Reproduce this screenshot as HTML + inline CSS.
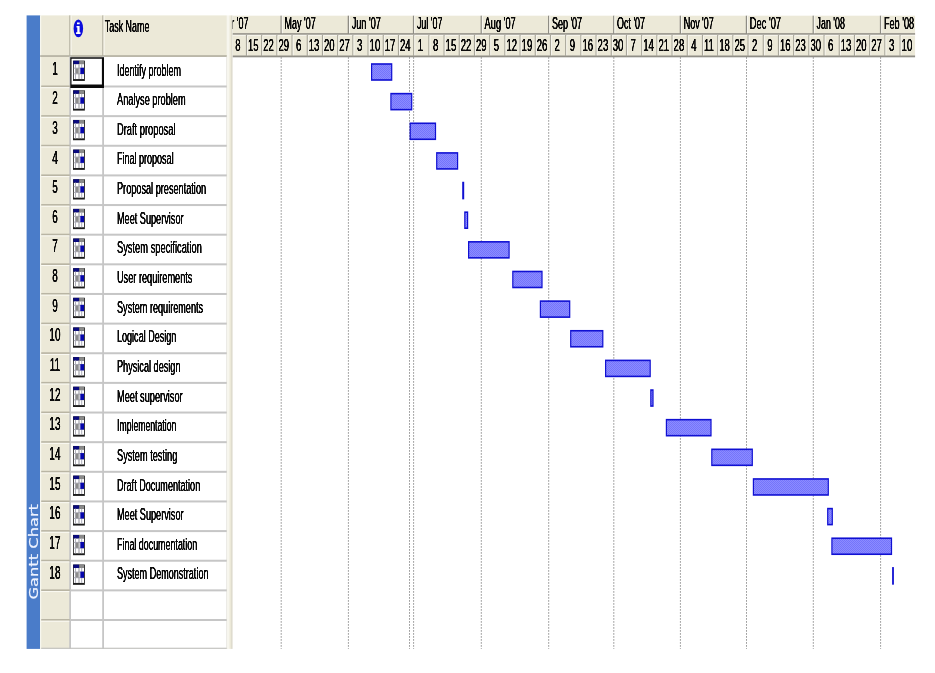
<!DOCTYPE html>
<html lang="en"><head><meta charset="utf-8"><title>Gantt Chart</title>
<style>html,body{margin:0;padding:0;background:#fff;}body{width:935px;height:673px;overflow:hidden;}svg{display:block;filter:blur(0.3px)}text{font-family:"Liberation Sans",Arial,sans-serif;fill:#0c0c0c}.v{font-family:"DejaVu Sans","Liberation Sans",sans-serif;fill:#eef3ff}</style></head><body>
<svg width="935" height="673" viewBox="0 0 935 673">
<defs><pattern id="h" width="2" height="2" patternUnits="userSpaceOnUse"><rect width="2" height="2" fill="#8c8cff"/><rect width="1" height="1" fill="#7474fb"/><rect x="1" y="1" width="1" height="1" fill="#7474fb"/></pattern>
<clipPath id="cc2"><rect x="0" y="0" width="915.3" height="673"/></clipPath>
<clipPath id="cc3"><rect x="232.7" y="0" width="100" height="673"/></clipPath>
<clipPath id="cc"><rect x="232.5" y="15.4" width="682.8" height="633.5"/></clipPath>
<g id="ic"><rect x="0" y="0.1" width="11.85" height="20.3" fill="#1c1c1c"/><rect x="0.8" y="3.5" width="10.2" height="15.0" fill="#fff"/><rect x="0.4" y="0.2" width="5.8" height="3.4" fill="#0a0a80"/><rect x="6.2" y="0.2" width="4.8" height="3.4" fill="#8a8a8a"/><path d="M0.8 7.6H11M0.8 13.3H11M2.5 3.6V18.5M8.7 3.6V18.5" stroke="#aeaeba" stroke-width="1.0" fill="none"/><path d="M6.0 3.6V18.5" stroke="#9c9ca4" stroke-width="1.1" fill="none"/><rect x="2.7" y="7.8" width="2.8" height="5.3" fill="#8c8c8c"/><rect x="7.3" y="7.2" width="3.7" height="6.2" fill="#0606ac"/></g>
<filter id="fat" x="0" y="0" width="935" height="673" filterUnits="userSpaceOnUse" color-interpolation-filters="sRGB"><feGaussianBlur stdDeviation="0.55 0.3"/><feComponentTransfer><feFuncA type="linear" slope="2.0"/></feComponentTransfer></filter>
</defs>
<rect x="26.6" y="15.4" width="13.600000000000001" height="633.5" fill="#4a7cc9"/>
<rect x="40.2" y="15.4" width="186.60000000000002" height="40.800000000000004" fill="#ece9d8"/>
<rect x="40.2" y="56.2" width="29.700000000000003" height="592.6999999999999" fill="#ece9d8"/>
<rect x="40.2" y="15.4" width="1" height="633.5" fill="#fbfaf4"/>
<rect x="69.0" y="15.4" width="1.6" height="40.800000000000004" fill="#c2bfaf"/><rect x="70.60000000000001" y="15.4" width="1" height="40.800000000000004" fill="#f9f8f1"/>
<rect x="102.0" y="15.4" width="1.6" height="40.800000000000004" fill="#c2bfaf"/><rect x="103.60000000000001" y="15.4" width="1" height="40.800000000000004" fill="#f9f8f1"/>
<rect x="40.2" y="55.2" width="186.60000000000002" height="1.7" fill="#b4b1a1"/>
<rect x="69.2" y="56.2" width="1.8" height="592.6999999999999" fill="#c6c6c6"/>
<rect x="102.2" y="56.2" width="1.8" height="592.6999999999999" fill="#c6c6c6"/>
<rect x="41.2" y="85.49" width="28.700000000000003" height="1.7" fill="#b9b5a4"/>
<rect x="41.2" y="87.19" width="28.1" height="1" fill="#fbfaf4"/>
<rect x="69.9" y="85.49" width="156.9" height="2.0" fill="#c6c6c6"/>
<rect x="41.2" y="115.13" width="28.700000000000003" height="1.7" fill="#b9b5a4"/>
<rect x="41.2" y="116.83" width="28.1" height="1" fill="#fbfaf4"/>
<rect x="69.9" y="115.13" width="156.9" height="2.0" fill="#c6c6c6"/>
<rect x="41.2" y="144.77" width="28.700000000000003" height="1.7" fill="#b9b5a4"/>
<rect x="41.2" y="146.47" width="28.1" height="1" fill="#fbfaf4"/>
<rect x="69.9" y="144.77" width="156.9" height="2.0" fill="#c6c6c6"/>
<rect x="41.2" y="174.41000000000003" width="28.700000000000003" height="1.7" fill="#b9b5a4"/>
<rect x="41.2" y="176.11" width="28.1" height="1" fill="#fbfaf4"/>
<rect x="69.9" y="174.41000000000003" width="156.9" height="2.0" fill="#c6c6c6"/>
<rect x="41.2" y="204.05" width="28.700000000000003" height="1.7" fill="#b9b5a4"/>
<rect x="41.2" y="205.75" width="28.1" height="1" fill="#fbfaf4"/>
<rect x="69.9" y="204.05" width="156.9" height="2.0" fill="#c6c6c6"/>
<rect x="41.2" y="233.69" width="28.700000000000003" height="1.7" fill="#b9b5a4"/>
<rect x="41.2" y="235.39" width="28.1" height="1" fill="#fbfaf4"/>
<rect x="69.9" y="233.69" width="156.9" height="2.0" fill="#c6c6c6"/>
<rect x="41.2" y="263.33000000000004" width="28.700000000000003" height="1.7" fill="#b9b5a4"/>
<rect x="41.2" y="265.03000000000003" width="28.1" height="1" fill="#fbfaf4"/>
<rect x="69.9" y="263.33000000000004" width="156.9" height="2.0" fill="#c6c6c6"/>
<rect x="41.2" y="292.97" width="28.700000000000003" height="1.7" fill="#b9b5a4"/>
<rect x="41.2" y="294.67" width="28.1" height="1" fill="#fbfaf4"/>
<rect x="69.9" y="292.97" width="156.9" height="2.0" fill="#c6c6c6"/>
<rect x="41.2" y="322.61" width="28.700000000000003" height="1.7" fill="#b9b5a4"/>
<rect x="41.2" y="324.31" width="28.1" height="1" fill="#fbfaf4"/>
<rect x="69.9" y="322.61" width="156.9" height="2.0" fill="#c6c6c6"/>
<rect x="41.2" y="352.25" width="28.700000000000003" height="1.7" fill="#b9b5a4"/>
<rect x="41.2" y="353.95" width="28.1" height="1" fill="#fbfaf4"/>
<rect x="69.9" y="352.25" width="156.9" height="2.0" fill="#c6c6c6"/>
<rect x="41.2" y="381.89000000000004" width="28.700000000000003" height="1.7" fill="#b9b5a4"/>
<rect x="41.2" y="383.59000000000003" width="28.1" height="1" fill="#fbfaf4"/>
<rect x="69.9" y="381.89000000000004" width="156.9" height="2.0" fill="#c6c6c6"/>
<rect x="41.2" y="411.53000000000003" width="28.700000000000003" height="1.7" fill="#b9b5a4"/>
<rect x="41.2" y="413.23" width="28.1" height="1" fill="#fbfaf4"/>
<rect x="69.9" y="411.53000000000003" width="156.9" height="2.0" fill="#c6c6c6"/>
<rect x="41.2" y="441.17" width="28.700000000000003" height="1.7" fill="#b9b5a4"/>
<rect x="41.2" y="442.87" width="28.1" height="1" fill="#fbfaf4"/>
<rect x="69.9" y="441.17" width="156.9" height="2.0" fill="#c6c6c6"/>
<rect x="41.2" y="470.81000000000006" width="28.700000000000003" height="1.7" fill="#b9b5a4"/>
<rect x="41.2" y="472.51000000000005" width="28.1" height="1" fill="#fbfaf4"/>
<rect x="69.9" y="470.81000000000006" width="156.9" height="2.0" fill="#c6c6c6"/>
<rect x="41.2" y="500.45000000000005" width="28.700000000000003" height="1.7" fill="#b9b5a4"/>
<rect x="41.2" y="502.15000000000003" width="28.1" height="1" fill="#fbfaf4"/>
<rect x="69.9" y="500.45000000000005" width="156.9" height="2.0" fill="#c6c6c6"/>
<rect x="41.2" y="530.0899999999999" width="28.700000000000003" height="1.7" fill="#b9b5a4"/>
<rect x="41.2" y="531.79" width="28.1" height="1" fill="#fbfaf4"/>
<rect x="69.9" y="530.0899999999999" width="156.9" height="2.0" fill="#c6c6c6"/>
<rect x="41.2" y="559.7299999999999" width="28.700000000000003" height="1.7" fill="#b9b5a4"/>
<rect x="41.2" y="561.43" width="28.1" height="1" fill="#fbfaf4"/>
<rect x="69.9" y="559.7299999999999" width="156.9" height="2.0" fill="#c6c6c6"/>
<rect x="41.2" y="589.3699999999999" width="28.700000000000003" height="1.7" fill="#b9b5a4"/>
<rect x="41.2" y="591.0699999999999" width="28.1" height="1" fill="#fbfaf4"/>
<rect x="69.9" y="589.3699999999999" width="156.9" height="2.0" fill="#c6c6c6"/>
<rect x="41.2" y="619.0099999999999" width="28.700000000000003" height="1.7" fill="#b9b5a4"/>
<rect x="41.2" y="620.7099999999999" width="28.1" height="1" fill="#fbfaf4"/>
<rect x="69.9" y="619.0099999999999" width="156.9" height="2.0" fill="#c6c6c6"/>
<rect x="41.2" y="647.6999999999999" width="185.60000000000002" height="1.2" fill="#c4c4c0"/>
<rect x="226.60000000000002" y="56.2" width="1.0" height="592.6999999999999" fill="#cfcdc4"/>
<rect x="227.0" y="15.4" width="2.6" height="633.5" fill="#f7f6ee"/>
<rect x="229.4" y="15.4" width="1.9" height="633.5" fill="#ece9d8"/>
<rect x="231.2" y="15.4" width="1.3" height="633.5" fill="#d9d6c6"/>
<path d="M70.3 57.2H104.0V88.0H70.3Z M71.5 58.800000000000004V84.6H101.9V58.800000000000004Z" fill="#0a0a0a" fill-rule="evenodd"/>
<ellipse cx="78.35" cy="28.4" rx="4.75" ry="8.95" fill="#0c0cdc"/>
<path d="M77.0 22.5h2.7v1.7h-2.7zM76.5 26.0h3.1v6.3h0.9v1.6h-4.4v-1.6h1.2v-4.7h-0.8z" fill="#fff"/>
<use href="#ic" x="73.0" y="60.55"/>
<use href="#ic" x="73.0" y="90.19"/>
<use href="#ic" x="73.0" y="119.83"/>
<use href="#ic" x="73.0" y="149.47"/>
<use href="#ic" x="73.0" y="179.11"/>
<use href="#ic" x="73.0" y="208.75"/>
<use href="#ic" x="73.0" y="238.39"/>
<use href="#ic" x="73.0" y="268.03"/>
<use href="#ic" x="73.0" y="297.67"/>
<use href="#ic" x="73.0" y="327.31"/>
<use href="#ic" x="73.0" y="356.95"/>
<use href="#ic" x="73.0" y="386.59"/>
<use href="#ic" x="73.0" y="416.23"/>
<use href="#ic" x="73.0" y="445.87"/>
<use href="#ic" x="73.0" y="475.51"/>
<use href="#ic" x="73.0" y="505.15"/>
<use href="#ic" x="73.0" y="534.79"/>
<use href="#ic" x="73.0" y="564.43"/>
<text class="v" transform="translate(37.9 599.6) rotate(-90) scale(1 0.72)" font-size="16.3" stroke="#eef3ff" stroke-width="0.25">Gantt Chart</text>
<g clip-path="url(#cc)">
<rect x="232.5" y="15.4" width="682.8" height="40.800000000000004" fill="#ece9d8"/>
<rect x="232.5" y="33.2" width="682.8" height="1.6" fill="#8e8c84"/>
<rect x="232.5" y="34.8" width="682.8" height="1" fill="#f8f7f0"/>
<rect x="232.5" y="55.5" width="682.8" height="1.8" fill="#908e86"/>
<rect x="245.90" y="34.8" width="1.2" height="21.400000000000002" fill="#a8a69a"/><rect x="247.10" y="35.6" width="0.9" height="19.6" fill="#f8f7f0"/>
<rect x="261.10" y="34.8" width="1.2" height="21.400000000000002" fill="#a8a69a"/><rect x="262.30" y="35.6" width="0.9" height="19.6" fill="#f8f7f0"/>
<rect x="276.30" y="34.8" width="1.2" height="21.400000000000002" fill="#a8a69a"/><rect x="277.50" y="35.6" width="0.9" height="19.6" fill="#f8f7f0"/>
<rect x="291.50" y="34.8" width="1.2" height="21.400000000000002" fill="#a8a69a"/><rect x="292.70" y="35.6" width="0.9" height="19.6" fill="#f8f7f0"/>
<rect x="306.70" y="34.8" width="1.2" height="21.400000000000002" fill="#a8a69a"/><rect x="307.90" y="35.6" width="0.9" height="19.6" fill="#f8f7f0"/>
<rect x="321.90" y="34.8" width="1.2" height="21.400000000000002" fill="#a8a69a"/><rect x="323.10" y="35.6" width="0.9" height="19.6" fill="#f8f7f0"/>
<rect x="337.10" y="34.8" width="1.2" height="21.400000000000002" fill="#a8a69a"/><rect x="338.30" y="35.6" width="0.9" height="19.6" fill="#f8f7f0"/>
<rect x="352.30" y="34.8" width="1.2" height="21.400000000000002" fill="#a8a69a"/><rect x="353.50" y="35.6" width="0.9" height="19.6" fill="#f8f7f0"/>
<rect x="367.50" y="34.8" width="1.2" height="21.400000000000002" fill="#a8a69a"/><rect x="368.70" y="35.6" width="0.9" height="19.6" fill="#f8f7f0"/>
<rect x="382.70" y="34.8" width="1.2" height="21.400000000000002" fill="#a8a69a"/><rect x="383.90" y="35.6" width="0.9" height="19.6" fill="#f8f7f0"/>
<rect x="397.90" y="34.8" width="1.2" height="21.400000000000002" fill="#a8a69a"/><rect x="399.10" y="35.6" width="0.9" height="19.6" fill="#f8f7f0"/>
<rect x="413.10" y="34.8" width="1.2" height="21.400000000000002" fill="#a8a69a"/><rect x="414.30" y="35.6" width="0.9" height="19.6" fill="#f8f7f0"/>
<rect x="428.30" y="34.8" width="1.2" height="21.400000000000002" fill="#a8a69a"/><rect x="429.50" y="35.6" width="0.9" height="19.6" fill="#f8f7f0"/>
<rect x="443.50" y="34.8" width="1.2" height="21.400000000000002" fill="#a8a69a"/><rect x="444.70" y="35.6" width="0.9" height="19.6" fill="#f8f7f0"/>
<rect x="458.70" y="34.8" width="1.2" height="21.400000000000002" fill="#a8a69a"/><rect x="459.90" y="35.6" width="0.9" height="19.6" fill="#f8f7f0"/>
<rect x="473.90" y="34.8" width="1.2" height="21.400000000000002" fill="#a8a69a"/><rect x="475.10" y="35.6" width="0.9" height="19.6" fill="#f8f7f0"/>
<rect x="489.10" y="34.8" width="1.2" height="21.400000000000002" fill="#a8a69a"/><rect x="490.30" y="35.6" width="0.9" height="19.6" fill="#f8f7f0"/>
<rect x="504.30" y="34.8" width="1.2" height="21.400000000000002" fill="#a8a69a"/><rect x="505.50" y="35.6" width="0.9" height="19.6" fill="#f8f7f0"/>
<rect x="519.50" y="34.8" width="1.2" height="21.400000000000002" fill="#a8a69a"/><rect x="520.70" y="35.6" width="0.9" height="19.6" fill="#f8f7f0"/>
<rect x="534.70" y="34.8" width="1.2" height="21.400000000000002" fill="#a8a69a"/><rect x="535.90" y="35.6" width="0.9" height="19.6" fill="#f8f7f0"/>
<rect x="549.90" y="34.8" width="1.2" height="21.400000000000002" fill="#a8a69a"/><rect x="551.10" y="35.6" width="0.9" height="19.6" fill="#f8f7f0"/>
<rect x="565.10" y="34.8" width="1.2" height="21.400000000000002" fill="#a8a69a"/><rect x="566.30" y="35.6" width="0.9" height="19.6" fill="#f8f7f0"/>
<rect x="580.30" y="34.8" width="1.2" height="21.400000000000002" fill="#a8a69a"/><rect x="581.50" y="35.6" width="0.9" height="19.6" fill="#f8f7f0"/>
<rect x="595.50" y="34.8" width="1.2" height="21.400000000000002" fill="#a8a69a"/><rect x="596.70" y="35.6" width="0.9" height="19.6" fill="#f8f7f0"/>
<rect x="610.70" y="34.8" width="1.2" height="21.400000000000002" fill="#a8a69a"/><rect x="611.90" y="35.6" width="0.9" height="19.6" fill="#f8f7f0"/>
<rect x="625.90" y="34.8" width="1.2" height="21.400000000000002" fill="#a8a69a"/><rect x="627.10" y="35.6" width="0.9" height="19.6" fill="#f8f7f0"/>
<rect x="641.10" y="34.8" width="1.2" height="21.400000000000002" fill="#a8a69a"/><rect x="642.30" y="35.6" width="0.9" height="19.6" fill="#f8f7f0"/>
<rect x="656.30" y="34.8" width="1.2" height="21.400000000000002" fill="#a8a69a"/><rect x="657.50" y="35.6" width="0.9" height="19.6" fill="#f8f7f0"/>
<rect x="671.50" y="34.8" width="1.2" height="21.400000000000002" fill="#a8a69a"/><rect x="672.70" y="35.6" width="0.9" height="19.6" fill="#f8f7f0"/>
<rect x="686.70" y="34.8" width="1.2" height="21.400000000000002" fill="#a8a69a"/><rect x="687.90" y="35.6" width="0.9" height="19.6" fill="#f8f7f0"/>
<rect x="701.90" y="34.8" width="1.2" height="21.400000000000002" fill="#a8a69a"/><rect x="703.10" y="35.6" width="0.9" height="19.6" fill="#f8f7f0"/>
<rect x="717.10" y="34.8" width="1.2" height="21.400000000000002" fill="#a8a69a"/><rect x="718.30" y="35.6" width="0.9" height="19.6" fill="#f8f7f0"/>
<rect x="732.30" y="34.8" width="1.2" height="21.400000000000002" fill="#a8a69a"/><rect x="733.50" y="35.6" width="0.9" height="19.6" fill="#f8f7f0"/>
<rect x="747.50" y="34.8" width="1.2" height="21.400000000000002" fill="#a8a69a"/><rect x="748.70" y="35.6" width="0.9" height="19.6" fill="#f8f7f0"/>
<rect x="762.70" y="34.8" width="1.2" height="21.400000000000002" fill="#a8a69a"/><rect x="763.90" y="35.6" width="0.9" height="19.6" fill="#f8f7f0"/>
<rect x="777.90" y="34.8" width="1.2" height="21.400000000000002" fill="#a8a69a"/><rect x="779.10" y="35.6" width="0.9" height="19.6" fill="#f8f7f0"/>
<rect x="793.10" y="34.8" width="1.2" height="21.400000000000002" fill="#a8a69a"/><rect x="794.30" y="35.6" width="0.9" height="19.6" fill="#f8f7f0"/>
<rect x="808.30" y="34.8" width="1.2" height="21.400000000000002" fill="#a8a69a"/><rect x="809.50" y="35.6" width="0.9" height="19.6" fill="#f8f7f0"/>
<rect x="823.50" y="34.8" width="1.2" height="21.400000000000002" fill="#a8a69a"/><rect x="824.70" y="35.6" width="0.9" height="19.6" fill="#f8f7f0"/>
<rect x="838.70" y="34.8" width="1.2" height="21.400000000000002" fill="#a8a69a"/><rect x="839.90" y="35.6" width="0.9" height="19.6" fill="#f8f7f0"/>
<rect x="853.90" y="34.8" width="1.2" height="21.400000000000002" fill="#a8a69a"/><rect x="855.10" y="35.6" width="0.9" height="19.6" fill="#f8f7f0"/>
<rect x="869.10" y="34.8" width="1.2" height="21.400000000000002" fill="#a8a69a"/><rect x="870.30" y="35.6" width="0.9" height="19.6" fill="#f8f7f0"/>
<rect x="884.30" y="34.8" width="1.2" height="21.400000000000002" fill="#a8a69a"/><rect x="885.50" y="35.6" width="0.9" height="19.6" fill="#f8f7f0"/>
<rect x="899.50" y="34.8" width="1.2" height="21.400000000000002" fill="#a8a69a"/><rect x="900.70" y="35.6" width="0.9" height="19.6" fill="#f8f7f0"/>
<rect x="280.50" y="15.4" width="1.3" height="18.6" fill="#8e8c84"/><rect x="281.80" y="15.4" width="1" height="17.8" fill="#f8f7f0"/>
<rect x="347.70" y="15.4" width="1.3" height="18.6" fill="#8e8c84"/><rect x="349.00" y="15.4" width="1" height="17.8" fill="#f8f7f0"/>
<rect x="412.90" y="15.4" width="1.3" height="18.6" fill="#8e8c84"/><rect x="414.20" y="15.4" width="1" height="17.8" fill="#f8f7f0"/>
<rect x="480.60" y="15.4" width="1.3" height="18.6" fill="#8e8c84"/><rect x="481.90" y="15.4" width="1" height="17.8" fill="#f8f7f0"/>
<rect x="548.00" y="15.4" width="1.3" height="18.6" fill="#8e8c84"/><rect x="549.30" y="15.4" width="1" height="17.8" fill="#f8f7f0"/>
<rect x="613.10" y="15.4" width="1.3" height="18.6" fill="#8e8c84"/><rect x="614.40" y="15.4" width="1" height="17.8" fill="#f8f7f0"/>
<rect x="679.70" y="15.4" width="1.3" height="18.6" fill="#8e8c84"/><rect x="681.00" y="15.4" width="1" height="17.8" fill="#f8f7f0"/>
<rect x="745.80" y="15.4" width="1.3" height="18.6" fill="#8e8c84"/><rect x="747.10" y="15.4" width="1" height="17.8" fill="#f8f7f0"/>
<rect x="812.60" y="15.4" width="1.3" height="18.6" fill="#8e8c84"/><rect x="813.90" y="15.4" width="1" height="17.8" fill="#f8f7f0"/>
<rect x="879.90" y="15.4" width="1.3" height="18.6" fill="#8e8c84"/><rect x="881.20" y="15.4" width="1" height="17.8" fill="#f8f7f0"/>
<line x1="281.20" y1="57.2" x2="281.20" y2="648.9" stroke="#8c8c8c" stroke-width="1.0" stroke-dasharray="1.5 1.5"/>
<line x1="348.40" y1="57.2" x2="348.40" y2="648.9" stroke="#8c8c8c" stroke-width="1.0" stroke-dasharray="1.5 1.5"/>
<line x1="413.60" y1="57.2" x2="413.60" y2="648.9" stroke="#8c8c8c" stroke-width="1.0" stroke-dasharray="1.5 1.5"/>
<line x1="481.30" y1="57.2" x2="481.30" y2="648.9" stroke="#8c8c8c" stroke-width="1.0" stroke-dasharray="1.5 1.5"/>
<line x1="548.70" y1="57.2" x2="548.70" y2="648.9" stroke="#8c8c8c" stroke-width="1.0" stroke-dasharray="1.5 1.5"/>
<line x1="613.80" y1="57.2" x2="613.80" y2="648.9" stroke="#8c8c8c" stroke-width="1.0" stroke-dasharray="1.5 1.5"/>
<line x1="680.40" y1="57.2" x2="680.40" y2="648.9" stroke="#8c8c8c" stroke-width="1.0" stroke-dasharray="1.5 1.5"/>
<line x1="746.50" y1="57.2" x2="746.50" y2="648.9" stroke="#8c8c8c" stroke-width="1.0" stroke-dasharray="1.5 1.5"/>
<line x1="813.30" y1="57.2" x2="813.30" y2="648.9" stroke="#8c8c8c" stroke-width="1.0" stroke-dasharray="1.5 1.5"/>
<line x1="880.60" y1="57.2" x2="880.60" y2="648.9" stroke="#8c8c8c" stroke-width="1.0" stroke-dasharray="1.5 1.5"/>
<line x1="409.50" y1="57.2" x2="409.50" y2="648.9" stroke="#8c8c8c" stroke-width="1.0" stroke-dasharray="1.5 1.5"/>
<rect x="371.00" y="63.20" width="21.30" height="17.6" fill="#1010d2"/>
<rect x="372.20" y="64.80" width="18.90" height="14.400000000000002" fill="url(#h)"/>
<rect x="390.30" y="92.84" width="22.00" height="17.6" fill="#1010d2"/>
<rect x="391.50" y="94.44" width="19.60" height="14.400000000000002" fill="url(#h)"/>
<rect x="409.60" y="122.48" width="26.50" height="17.6" fill="#1010d2"/>
<rect x="410.80" y="124.08" width="24.10" height="14.400000000000002" fill="url(#h)"/>
<rect x="436.10" y="152.12" width="22.10" height="17.6" fill="#1010d2"/>
<rect x="437.30" y="153.72" width="19.70" height="14.400000000000002" fill="url(#h)"/>
<rect x="462.20" y="181.76" width="2.00" height="17.6" fill="#1010d2"/>
<rect x="464.20" y="211.40" width="4.00" height="17.6" fill="#1010d2"/>
<rect x="465.40" y="213.00" width="1.60" height="14.400000000000002" fill="url(#h)"/>
<rect x="468.00" y="241.04" width="41.70" height="17.6" fill="#1010d2"/>
<rect x="469.20" y="242.64" width="39.30" height="14.400000000000002" fill="url(#h)"/>
<rect x="512.20" y="270.68" width="30.40" height="17.6" fill="#1010d2"/>
<rect x="513.40" y="272.28" width="28.00" height="14.400000000000002" fill="url(#h)"/>
<rect x="539.80" y="300.32" width="30.50" height="17.6" fill="#1010d2"/>
<rect x="541.00" y="301.92" width="28.10" height="14.400000000000002" fill="url(#h)"/>
<rect x="570.10" y="329.96" width="33.30" height="17.6" fill="#1010d2"/>
<rect x="571.30" y="331.56" width="30.90" height="14.400000000000002" fill="url(#h)"/>
<rect x="605.00" y="359.60" width="45.80" height="17.6" fill="#1010d2"/>
<rect x="606.20" y="361.20" width="43.40" height="14.400000000000002" fill="url(#h)"/>
<rect x="650.20" y="389.24" width="3.40" height="17.6" fill="#1010d2"/>
<rect x="651.40" y="390.84" width="1.00" height="14.400000000000002" fill="url(#h)"/>
<rect x="665.80" y="418.88" width="45.80" height="17.6" fill="#1010d2"/>
<rect x="667.00" y="420.48" width="43.40" height="14.400000000000002" fill="url(#h)"/>
<rect x="711.20" y="448.52" width="41.70" height="17.6" fill="#1010d2"/>
<rect x="712.40" y="450.12" width="39.30" height="14.400000000000002" fill="url(#h)"/>
<rect x="752.80" y="478.16" width="76.10" height="17.6" fill="#1010d2"/>
<rect x="754.00" y="479.76" width="73.70" height="14.400000000000002" fill="url(#h)"/>
<rect x="827.10" y="507.80" width="5.80" height="17.6" fill="#1010d2"/>
<rect x="828.30" y="509.40" width="3.40" height="14.400000000000002" fill="url(#h)"/>
<rect x="831.30" y="537.44" width="60.80" height="17.6" fill="#1010d2"/>
<rect x="832.50" y="539.04" width="58.40" height="14.400000000000002" fill="url(#h)"/>
<rect x="892.10" y="567.08" width="1.80" height="17.6" fill="#1010d2"/>
</g>
<g clip-path="url(#cc2)"><g filter="url(#fat)">
<text transform="translate(104.80 32.10) scale(0.525 1)" font-size="17.0">Task Name</text>
<text text-anchor="middle" transform="translate(54.90 74.65) scale(0.56 1)" font-size="17.8">1</text>
<text transform="translate(117.00 75.55) scale(0.5371 1)" font-size="16.8">Identify problem</text>
<text text-anchor="middle" transform="translate(54.90 104.29) scale(0.56 1)" font-size="17.8">2</text>
<text transform="translate(117.00 105.19) scale(0.549 1)" font-size="16.8">Analyse problem</text>
<text text-anchor="middle" transform="translate(54.90 133.93) scale(0.56 1)" font-size="17.8">3</text>
<text transform="translate(117.00 134.83) scale(0.5544 1)" font-size="16.8">Draft proposal</text>
<text text-anchor="middle" transform="translate(54.90 163.57) scale(0.56 1)" font-size="17.8">4</text>
<text transform="translate(117.00 164.47) scale(0.5373 1)" font-size="16.8">Final proposal</text>
<text text-anchor="middle" transform="translate(54.90 193.21) scale(0.56 1)" font-size="17.8">5</text>
<text transform="translate(117.00 194.11) scale(0.5458 1)" font-size="16.8">Proposal presentation</text>
<text text-anchor="middle" transform="translate(54.90 222.85) scale(0.56 1)" font-size="17.8">6</text>
<text transform="translate(117.00 223.75) scale(0.5445 1)" font-size="16.8">Meet Supervisor</text>
<text text-anchor="middle" transform="translate(54.90 252.49) scale(0.56 1)" font-size="17.8">7</text>
<text transform="translate(117.00 253.39) scale(0.5544 1)" font-size="16.8">System specification</text>
<text text-anchor="middle" transform="translate(54.90 282.13) scale(0.56 1)" font-size="17.8">8</text>
<text transform="translate(117.00 283.03) scale(0.5464 1)" font-size="16.8">User requirements</text>
<text text-anchor="middle" transform="translate(54.90 311.77) scale(0.56 1)" font-size="17.8">9</text>
<text transform="translate(117.00 312.67) scale(0.5431 1)" font-size="16.8">System requirements</text>
<text text-anchor="middle" transform="translate(54.90 341.41) scale(0.56 1)" font-size="17.8">10</text>
<text transform="translate(117.00 342.31) scale(0.539 1)" font-size="16.8">Logical Design</text>
<text text-anchor="middle" transform="translate(54.90 371.05) scale(0.56 1)" font-size="17.8">11</text>
<text transform="translate(117.00 371.95) scale(0.544 1)" font-size="16.8">Physical design</text>
<text text-anchor="middle" transform="translate(54.90 400.69) scale(0.56 1)" font-size="17.8">12</text>
<text transform="translate(117.00 401.59) scale(0.5497 1)" font-size="16.8">Meet supervisor</text>
<text text-anchor="middle" transform="translate(54.90 430.33) scale(0.56 1)" font-size="17.8">13</text>
<text transform="translate(117.00 431.23) scale(0.5171 1)" font-size="16.8">Implementation</text>
<text text-anchor="middle" transform="translate(54.90 459.97) scale(0.56 1)" font-size="17.8">14</text>
<text transform="translate(117.00 460.87) scale(0.5473 1)" font-size="16.8">System testing</text>
<text text-anchor="middle" transform="translate(54.90 489.61) scale(0.56 1)" font-size="17.8">15</text>
<text transform="translate(117.00 490.51) scale(0.54 1)" font-size="16.8">Draft Documentation</text>
<text text-anchor="middle" transform="translate(54.90 519.25) scale(0.56 1)" font-size="17.8">16</text>
<text transform="translate(117.00 520.15) scale(0.5445 1)" font-size="16.8">Meet Supervisor</text>
<text text-anchor="middle" transform="translate(54.90 548.89) scale(0.56 1)" font-size="17.8">17</text>
<text transform="translate(117.00 549.79) scale(0.5308 1)" font-size="16.8">Final documentation</text>
<text text-anchor="middle" transform="translate(54.90 578.53) scale(0.56 1)" font-size="17.8">18</text>
<text transform="translate(117.00 579.43) scale(0.5385 1)" font-size="16.8">System Demonstration</text>
<text transform="translate(235.30 51.30) scale(0.555 1)" font-size="17.2">8</text>
<text transform="translate(248.00 51.30) scale(0.555 1)" font-size="17.2">15</text>
<text transform="translate(263.20 51.30) scale(0.555 1)" font-size="17.2">22</text>
<text transform="translate(278.40 51.30) scale(0.555 1)" font-size="17.2">29</text>
<text transform="translate(296.10 51.30) scale(0.555 1)" font-size="17.2">6</text>
<text transform="translate(308.80 51.30) scale(0.555 1)" font-size="17.2">13</text>
<text transform="translate(324.00 51.30) scale(0.555 1)" font-size="17.2">20</text>
<text transform="translate(339.20 51.30) scale(0.555 1)" font-size="17.2">27</text>
<text transform="translate(356.90 51.30) scale(0.555 1)" font-size="17.2">3</text>
<text transform="translate(369.60 51.30) scale(0.555 1)" font-size="17.2">10</text>
<text transform="translate(384.80 51.30) scale(0.555 1)" font-size="17.2">17</text>
<text transform="translate(400.00 51.30) scale(0.555 1)" font-size="17.2">24</text>
<text transform="translate(417.70 51.30) scale(0.555 1)" font-size="17.2">1</text>
<text transform="translate(432.90 51.30) scale(0.555 1)" font-size="17.2">8</text>
<text transform="translate(445.60 51.30) scale(0.555 1)" font-size="17.2">15</text>
<text transform="translate(460.80 51.30) scale(0.555 1)" font-size="17.2">22</text>
<text transform="translate(476.00 51.30) scale(0.555 1)" font-size="17.2">29</text>
<text transform="translate(493.70 51.30) scale(0.555 1)" font-size="17.2">5</text>
<text transform="translate(506.40 51.30) scale(0.555 1)" font-size="17.2">12</text>
<text transform="translate(521.60 51.30) scale(0.555 1)" font-size="17.2">19</text>
<text transform="translate(536.80 51.30) scale(0.555 1)" font-size="17.2">26</text>
<text transform="translate(554.50 51.30) scale(0.555 1)" font-size="17.2">2</text>
<text transform="translate(569.70 51.30) scale(0.555 1)" font-size="17.2">9</text>
<text transform="translate(582.40 51.30) scale(0.555 1)" font-size="17.2">16</text>
<text transform="translate(597.60 51.30) scale(0.555 1)" font-size="17.2">23</text>
<text transform="translate(612.80 51.30) scale(0.555 1)" font-size="17.2">30</text>
<text transform="translate(630.50 51.30) scale(0.555 1)" font-size="17.2">7</text>
<text transform="translate(643.20 51.30) scale(0.555 1)" font-size="17.2">14</text>
<text transform="translate(658.40 51.30) scale(0.555 1)" font-size="17.2">21</text>
<text transform="translate(673.60 51.30) scale(0.555 1)" font-size="17.2">28</text>
<text transform="translate(691.30 51.30) scale(0.555 1)" font-size="17.2">4</text>
<text transform="translate(704.00 51.30) scale(0.555 1)" font-size="17.2">11</text>
<text transform="translate(719.20 51.30) scale(0.555 1)" font-size="17.2">18</text>
<text transform="translate(734.40 51.30) scale(0.555 1)" font-size="17.2">25</text>
<text transform="translate(752.10 51.30) scale(0.555 1)" font-size="17.2">2</text>
<text transform="translate(767.30 51.30) scale(0.555 1)" font-size="17.2">9</text>
<text transform="translate(780.00 51.30) scale(0.555 1)" font-size="17.2">16</text>
<text transform="translate(795.20 51.30) scale(0.555 1)" font-size="17.2">23</text>
<text transform="translate(810.40 51.30) scale(0.555 1)" font-size="17.2">30</text>
<text transform="translate(828.10 51.30) scale(0.555 1)" font-size="17.2">6</text>
<text transform="translate(840.80 51.30) scale(0.555 1)" font-size="17.2">13</text>
<text transform="translate(856.00 51.30) scale(0.555 1)" font-size="17.2">20</text>
<text transform="translate(871.20 51.30) scale(0.555 1)" font-size="17.2">27</text>
<text transform="translate(888.90 51.30) scale(0.555 1)" font-size="17.2">3</text>
<text transform="translate(901.60 51.30) scale(0.555 1)" font-size="17.2">10</text>
<g clip-path="url(#cc3)">
<text transform="translate(220.18 29.00) scale(0.53 1)" font-size="17.0">Apr &#39;07</text>
</g>
<text transform="translate(284.50 29.00) scale(0.5289 1)" font-size="17.0">May &#39;07</text>
<text transform="translate(351.70 29.00) scale(0.536 1)" font-size="17.0">Jun &#39;07</text>
<text transform="translate(416.90 29.00) scale(0.5246 1)" font-size="17.0">Jul &#39;07</text>
<text transform="translate(484.60 29.00) scale(0.5444 1)" font-size="17.0">Aug &#39;07</text>
<text transform="translate(552.00 29.00) scale(0.5269 1)" font-size="17.0">Sep &#39;07</text>
<text transform="translate(617.10 29.00) scale(0.5232 1)" font-size="17.0">Oct &#39;07</text>
<text transform="translate(683.70 29.00) scale(0.5271 1)" font-size="17.0">Nov &#39;07</text>
<text transform="translate(749.80 29.00) scale(0.5463 1)" font-size="17.0">Dec &#39;07</text>
<text transform="translate(816.60 29.00) scale(0.5213 1)" font-size="17.0">Jan &#39;08</text>
<text transform="translate(883.90 29.00) scale(0.5394 1)" font-size="17.0">Feb &#39;08</text>
</g></g>
</svg></body></html>
